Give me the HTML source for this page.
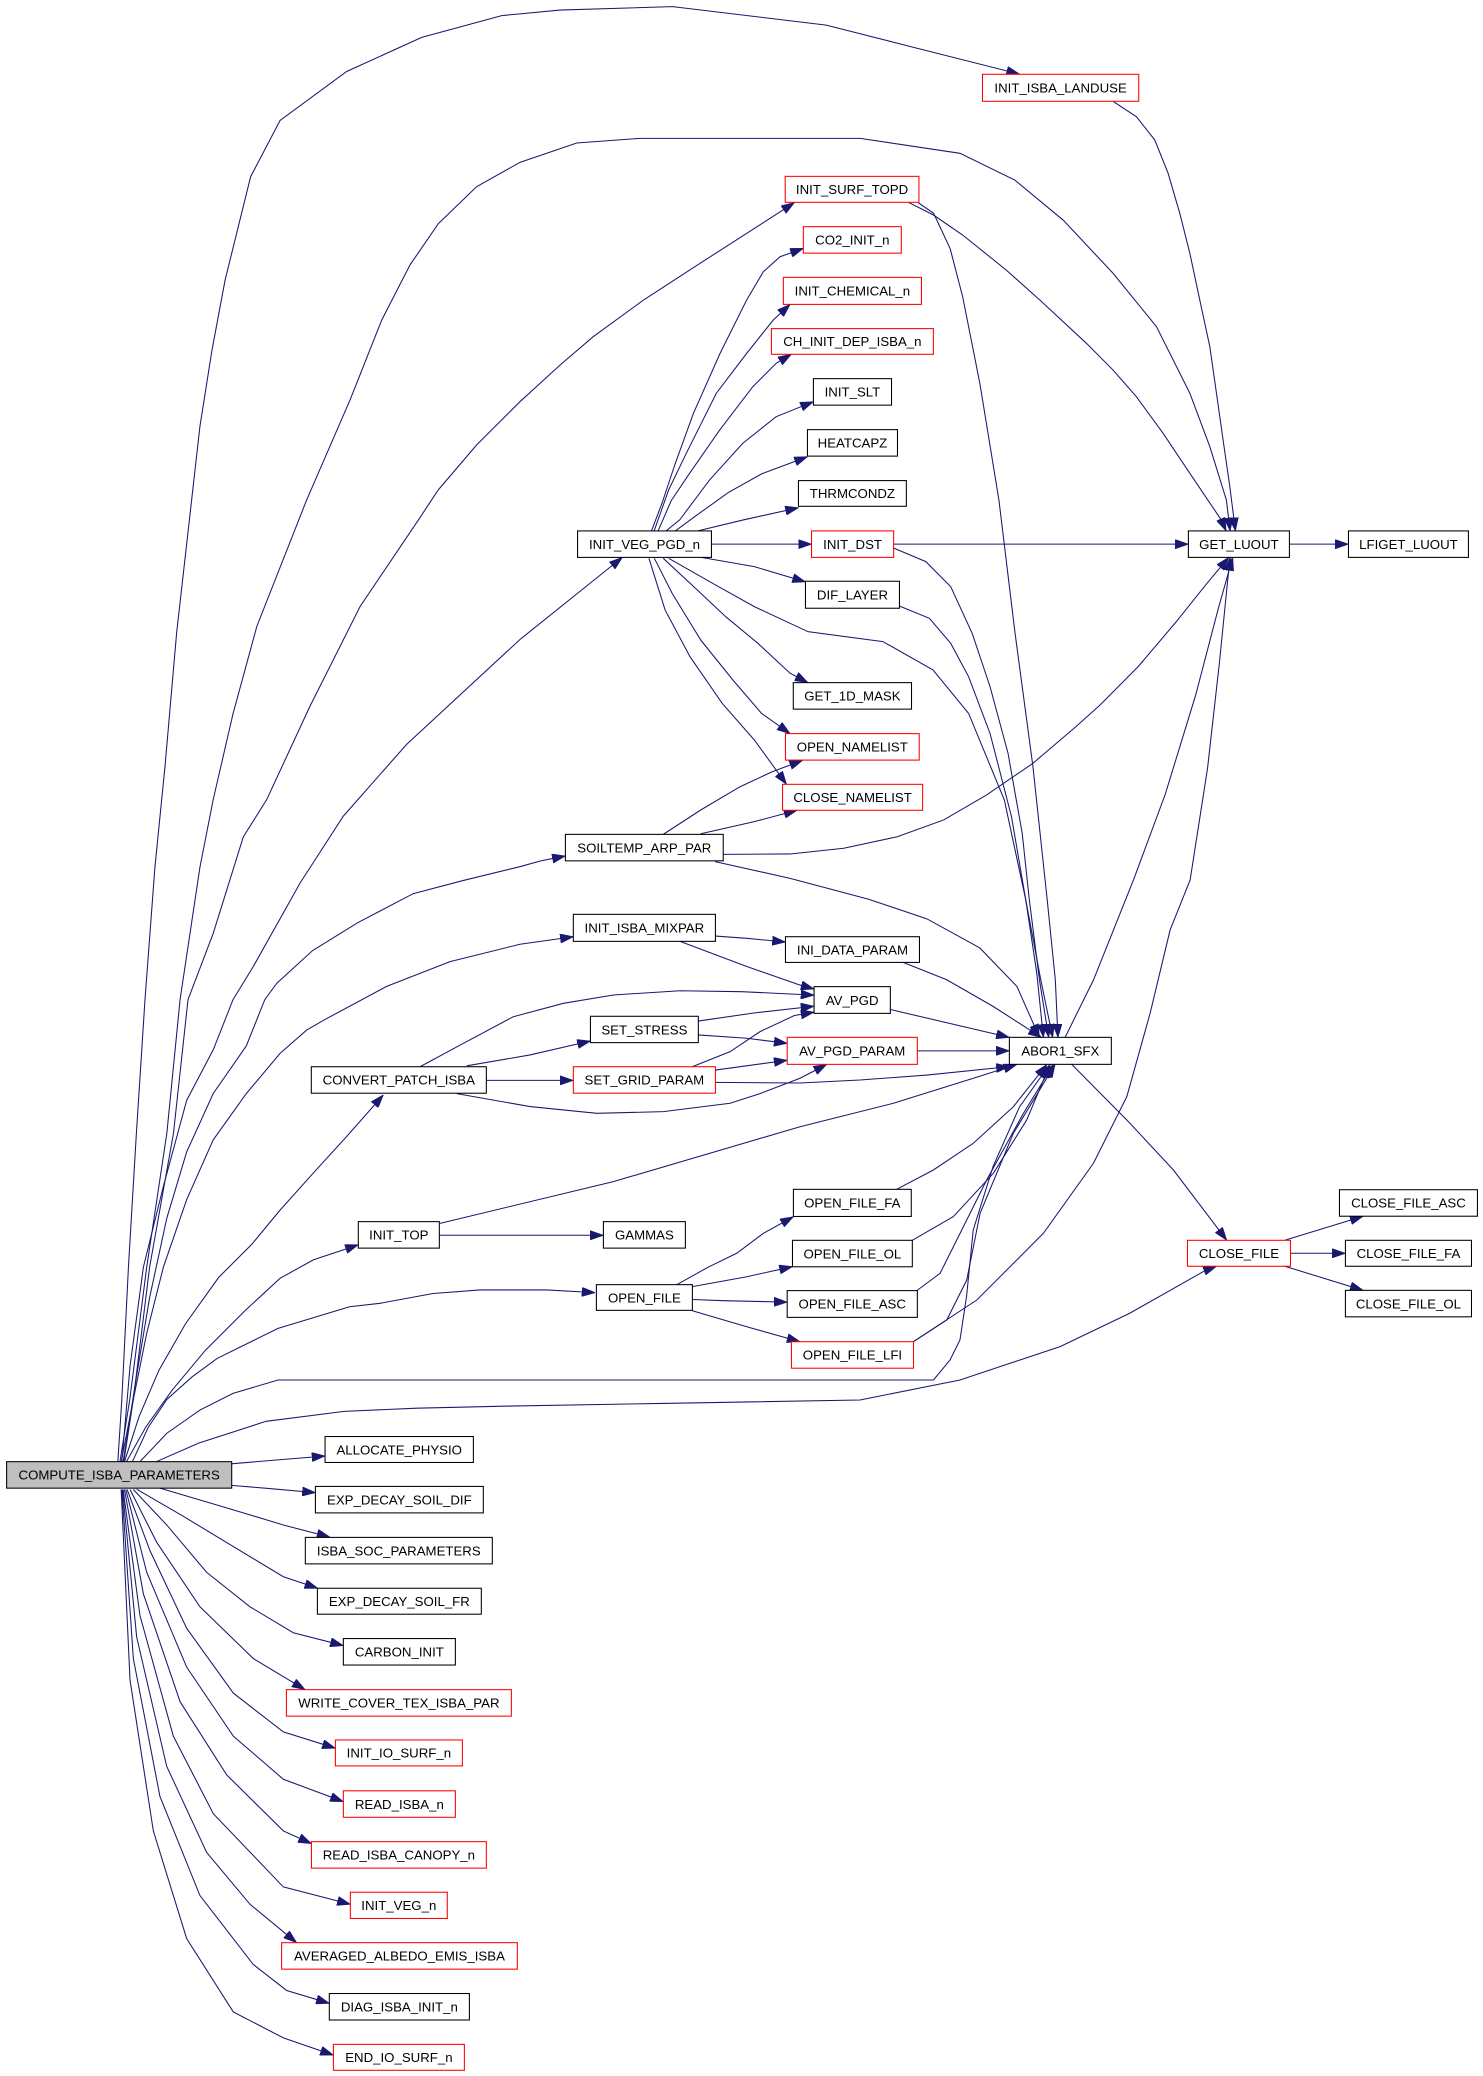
<!DOCTYPE html>
<html><head><meta charset="utf-8"><style>
html,body{margin:0;padding:0;background:#fff;}
svg{display:block;}
.e path{fill:none;stroke:#191970;stroke-width:0.8;marker-end:url(#ah);}
.n rect{fill:#fff;stroke:#000;stroke-width:0.8;}
.n rect.r{stroke:#ff0000;}
.n text{font-family:"Liberation Sans",Arial,sans-serif;font-size:10px;text-anchor:middle;fill:#000;}
</style></head><body>
<svg width="1483" height="2076" viewBox="0 0 1120 1568" preserveAspectRatio="none" xmlns="http://www.w3.org/2000/svg">
<defs><marker id="ah" viewBox="0 0 10 7" refX="10" refY="3.5" markerWidth="10" markerHeight="7" markerUnits="userSpaceOnUse" orient="auto"><path d="M0,0L10,3.5L0,7z" fill="#191970" stroke="#191970" stroke-width="0.5"/></marker></defs>
<rect x="0" y="0" width="1120" height="1568" fill="#fff"/>
<g class="e">
<path d="M89,1104 L92,1057 L97,957 L103,856 L109.5,755 L117,655 L124.6,579 L133.4,478 L143,393 L151,322 L160,265 L170,211.5 L189.3,133.4 L211.5,91 L261.8,54 L318.5,28.2 L378.9,11.8 L423,7.6 L508,5 L624,19 L687,35 L770,56"/>
<path d="M90.6,1104 L98,1057 L110.8,957 L126,856 L136,755 L151,655 L161,604 L176,539 L194,473 L231.6,377.6 L264.4,302 L288.3,241.7 L309.7,200 L331,169 L360,141 L392.7,122.6 L435.6,108 L483,104.5 L649.5,104.5 L725,115.8 L766.4,136 L802.9,166.2 L840.6,206.4 L873.4,246.7 L898.6,297 L913.7,337.4 L926.2,377.6 L929,401"/>
<path d="M91.5,1104 L100.7,1057 L113,957 L131,856 L142,755 L161,705 L183.8,632 L201.4,604 L234,533.6 L272,458 L316,392.7 L331,370 L360,336 L392.7,303.4 L423,275.7 L448,254.3 L486,226.6 L528.7,198.9 L564,176.2 L600,153"/>
<path d="M92,1104 L98.2,1032 L108.3,957 L123.4,896 L141,831 L161,793 L176,755 L191.3,730 L226.6,667 L259.3,616.4 L307,562.3 L392.7,483 L470,421"/>
<path d="M93,1104 L103,1040 L113,980 L126,920 L141,870 L161,826 L186,790 L200,755 L209,742.7 L236,718 L270,697 L312,675 L350,665 L392.7,654.6 L408,650.3 L427,646.5"/>
<path d="M93.5,1104 L100.7,1057 L110.8,1007 L123.4,957 L141,906 L161,861 L186,826 L211.5,795.6 L231.6,778 L245.5,770 L292,745 L339.9,726.3 L392.7,713.2 L433,707.5"/>
<path d="M94,1104 L105,1070 L120,1035 L140,1000 L165,965 L190,940 L211.5,914 L236.6,886 L261.8,858.4 L289.5,827"/>
<path d="M95.5,1104 L110,1078 L130,1050 L155,1020 L185,990 L211.5,965.5 L236.6,951.6 L259.3,944 L270.6,940.2"/>
<path d="M100,1104 L112,1078 L126,1057 L145,1040 L164,1026 L210,1003.3 L264,987 L287,984.4 L327,977 L362.5,974.3 L412.9,974.3 L449.4,976.3"/>
<path d="M105.7,1104 L125.9,1082.6 L151,1065 L176,1052.4 L210,1042.3 L705,1042.3 L717.5,1027.2 L725,1012 L730,979 L735,929 L750,881 L770,836 L792,805"/>
<path d="M118,1104 L150,1090 L201,1073.5 L260,1066 L314.7,1063.6 L385,1062 L500,1060 L649.5,1057.4 L725,1042.3 L800.6,1017.1 L853,992 L911,959.2 L918.7,956.5"/>
<path d="M174.7,1105.6 L245.5,1099.7"/>
<path d="M174.7,1121.9 L201.4,1124.1 L238.2,1127.4"/>
<path d="M120.8,1124 L176.2,1140.4 L214,1151.8 L249.2,1161"/>
<path d="M103.2,1124.8 L138.5,1145.3 L176.2,1168.1 L214,1190.9 L240,1199.6"/>
<path d="M100.7,1125 L125.9,1151.8 L156.1,1187.6 L188.8,1213.6 L221.5,1233.2 L259.3,1242.9"/>
<path d="M98.2,1125 L118.3,1164.8 L151,1213.6 L191.3,1252.7 L230.4,1276.2"/>
<path d="M96,1125 L113.3,1171.3 L141,1229.9 L176.2,1278.8 L214,1308.1 L253.3,1320.4"/>
<path d="M95,1125 L110.8,1187.6 L141,1259.2 L176.2,1311.3 L214,1343.9 L259.3,1360.8"/>
<path d="M94,1125 L108.3,1203.9 L136,1285.3 L171.2,1340.6 L214,1382.9 L235.2,1392.5"/>
<path d="M93,1125 L105.7,1220.2 L130.9,1311.3 L161.1,1369.9 L214,1425.2 L264.6,1438.3"/>
<path d="M92.5,1125 L103.2,1236.4 L125.9,1334.1 L156.1,1399.2 L188.8,1438.3 L224,1467.3"/>
<path d="M92,1125 L100.7,1252.7 L120.8,1356.9 L151,1431.7 L191.3,1483.8 L216.5,1503.4 L248.7,1513.1"/>
<path d="M91.5,1125 L98.2,1269 L115.8,1382.9 L141,1464.3 L176.2,1519.6 L214,1539.2 L251.8,1552.2"/>
<path d="M492,401 L500,380 L510,350 L523.7,312.2 L543.8,266.9 L563.9,226.6 L576.5,205.2 L589.1,193.9 L606.7,187.6"/>
<path d="M494,401 L505,370 L518.3,342.4 L541,297 L563.9,266.9 L584,241.7 L596.7,229.9"/>
<path d="M497,401 L507,378 L520.8,357.5 L543.5,324.8 L568.6,292 L586.2,274.4 L597.6,267.6"/>
<path d="M503,401 L513.3,392.7 L535.9,362.5 L561,334.8 L586.2,314.7 L614.3,303.4"/>
<path d="M510,401 L525,390 L550,372 L575,358 L609.8,345"/>
<path d="M527,401 L561.3,392.7 L603,383.5"/>
<path d="M537.3,411 L612.9,411"/>
<path d="M530.6,421.2 L569.7,428 L608.3,439.5"/>
<path d="M500.9,421.7 L523.9,443.1 L548.1,465.8 L572.4,485.9 L596.7,508.5 L610.2,515.6"/>
<path d="M494.2,421.7 L507.6,448.1 L529.2,483.4 L553.5,513.6 L575.1,538.8 L596.7,554.1"/>
<path d="M490.1,421.7 L502.3,460.7 L521.1,496 L545.4,531.2 L569.7,558.9 L594,592.4"/>
<path d="M505,421.7 L542.7,443.1 L569.7,458.2 L610.2,477.1 L666.8,484.6 L704.6,506 L731.5,538.8 L758.5,604.2 L774.7,679.8 L783,735 L788,783.5"/>
<path d="M675,411 L897.5,411"/>
<path d="M675,414 L699.2,424.2 L718,443.1 L734.2,478.3 L747.7,518.6 L761.3,569 L772,629.4 L777.4,679.8 L785,740 L792,783.5"/>
<path d="M679.2,457.7 L701.9,467 L718,485.9 L731.5,511.1 L747.7,553.9 L763.9,616.8 L774.7,679.8 L786,740 L795,783.5"/>
<path d="M693.6,153.2 L705,161 L717.5,187.5 L727,224 L740,289.5 L754.4,377.6 L766.6,478.3 L780.1,579 L790.9,679.8 L797,740 L799,783.5"/>
<path d="M686,152.8 L705,162.4 L727,177.5 L760,204 L785.3,226.6 L820.5,259.3 L840.6,279.5 L858.2,299.6 L878.4,327.3 L898.6,357.5 L922.4,392.8 L926,401"/>
<path d="M840.6,76.5 L858.2,88.1 L872.1,105.7 L882.2,130.9 L891,161.1 L898.6,191.3 L906.1,226.6 L913.7,261.9 L918.7,297 L923.7,332.3 L928.8,367.6 L933,401"/>
<path d="M973.8,411 L1018.4,411"/>
<path d="M500.9,630.2 L529.2,611.8 L558.9,594.2 L583.2,582.9 L606.1,574.3"/>
<path d="M529.2,629.7 L569.7,620.6 L602,612"/>
<path d="M546.2,645.3 L596.7,645 L637.2,640.7 L677.6,632 L712.7,619.3 L745,600.5 L780.1,576.5 L812.5,548.9 L830.8,532.5 L860,503 L888,470 L912,440 L928,421"/>
<path d="M540,650.8 L596.7,663.4 L656,679.2 L700,694 L740,716 L768,745 L785,783.5"/>
<path d="M540.3,707 L564,708.7 L593.2,711.5"/>
<path d="M513.6,711 L564,730 L604,744 L614.8,747"/>
<path d="M682.3,727 L715,740 L750.3,760.3 L786.4,783.5"/>
<path d="M672.4,762.5 L762.3,783.5"/>
<path d="M527.4,771.2 L570,765 L614.8,760"/>
<path d="M527.4,781.7 L564,784.2 L594.5,788"/>
<path d="M522.8,805.7 L551.4,794.3 L574,779.2 L600,767 L614.8,764.5"/>
<path d="M540.3,808.2 L594.5,800.8"/>
<path d="M540.3,817.5 L604,818 L649.5,815.7 L700,812 L762.3,805.6"/>
<path d="M317.2,805.7 L350,788 L387.7,767.9 L425.5,757.8 L463.2,751.5 L513.6,748.3 L560,749 L614.8,751.6"/>
<path d="M352.5,805 L400.3,796.8 L445.9,786.3"/>
<path d="M367.3,816 L433,816"/>
<path d="M344.9,826 L400.3,835.8 L450.7,840.9 L501,839.6 L551.4,833.3 L574,826 L604.2,814.4 L624.4,803.9"/>
<path d="M692.8,793.7 L762.3,793.7"/>
<path d="M331.8,933 L455.7,933"/>
<path d="M332.3,924 L463.2,892.5 L604.2,851 L674.7,833.3 L735.1,814.4 L767.9,804"/>
<path d="M511.1,970.3 L535,957 L556.4,946.6 L576.5,931.5 L599.2,919"/>
<path d="M522.9,971.8 L564,964.3 L598.5,956.7"/>
<path d="M522.9,981.5 L546.3,982.4 L594.5,983.5"/>
<path d="M522.9,990 L564,1002.1 L604.2,1013.4"/>
<path d="M677.2,898.3 L704.9,883.7 L735.1,863.5 L765.3,835.9 L790.6,804"/>
<path d="M689,936.8 L720,918.9 L750.2,886.2 L775.4,845.9 L793,804"/>
<path d="M692.4,974.8 L710,961.7 L725.1,931.5 L745.2,891.2 L772.9,840.9 L795.5,804"/>
<path d="M689.8,1013.4 L715,997 L730.1,966.8 L740.2,916.4 L765.3,856 L796.8,804"/>
<path d="M689.8,1013.4 L737.7,981.9 L788,931.5 L825.8,878.6 L851,828.3 L868.6,765.3 L883.7,702.4 L898.8,664.7 L912,580 L921,500 L927,440 L929,421"/>
<path d="M804.4,783.5 L825.8,740.2 L856,664.7 L880,600 L903,525 L920,460 L931,421"/>
<path d="M809.4,803.9 L851,845.9 L886.2,883.7 L926.5,936.8"/>
<path d="M970.3,936.8 L1029.5,918.6"/>
<path d="M974.6,946.6 L1016.1,946.6"/>
<path d="M970.3,956.4 L1029.5,974.6"/>
</g>
<g class="n">
<rect x="5" y="1104" width="170" height="20" style="fill:#bfbfbf"/><text x="90" y="1117.6">COMPUTE_ISBA_PARAMETERS</text>
<rect x="245.5" y="1085" width="112" height="19.6"/><text x="301.5" y="1098.4">ALLOCATE_PHYSIO</text>
<rect x="238.2" y="1122.7" width="126.8" height="20"/><text x="301.6" y="1136.3">EXP_DECAY_SOIL_DIF</text>
<rect x="230.6" y="1161.2" width="141.2" height="20"/><text x="301.2" y="1174.8">ISBA_SOC_PARAMETERS</text>
<rect x="239.7" y="1199.6" width="123.8" height="19.6"/><text x="301.6" y="1213">EXP_DECAY_SOIL_FR</text>
<rect x="259.3" y="1237.6" width="84.6" height="20"/><text x="301.6" y="1251.2">CARBON_INIT</text>
<rect class="r" x="216.3" y="1276.2" width="169.9" height="20"/><text x="301.25" y="1289.8">WRITE_COVER_TEX_ISBA_PAR</text>
<rect class="r" x="253.3" y="1314.2" width="95.9" height="19.6"/><text x="301.25" y="1327.6">INIT_IO_SURF_n</text>
<rect class="r" x="259.3" y="1352.6" width="84.6" height="20"/><text x="301.6" y="1366.2">READ_ISBA_n</text>
<rect class="r" x="235.2" y="1391" width="132.1" height="20"/><text x="301.25" y="1404.6">READ_ISBA_CANOPY_n</text>
<rect class="r" x="264.6" y="1429.2" width="73.2" height="19.8"/><text x="301.2" y="1442.7">INIT_VEG_n</text>
<rect class="r" x="212.7" y="1467.3" width="178" height="20"/><text x="301.7" y="1480.9">AVERAGED_ALBEDO_EMIS_ISBA</text>
<rect x="248.7" y="1505.7" width="105.8" height="20"/><text x="301.6" y="1519.3">DIAG_ISBA_INIT_n</text>
<rect class="r" x="251.8" y="1544.1" width="98.9" height="19.6"/><text x="301.25" y="1557.5">END_IO_SURF_n</text>
<rect x="235.1" y="805.7" width="132.2" height="20"/><text x="301.2" y="819.3">CONVERT_PATCH_ISBA</text>
<rect x="270.6" y="922.7" width="61.2" height="20"/><text x="301.2" y="936.3">INIT_TOP</text>
<rect x="436.2" y="401" width="101.1" height="20"/><text x="486.75" y="414.6">INIT_VEG_PGD_n</text>
<rect x="427" y="630.2" width="119.2" height="20"/><text x="486.6" y="643.8">SOILTEMP_ARP_PAR</text>
<rect x="433" y="690.6" width="107.3" height="20.4"/><text x="486.65" y="704.4">INIT_ISBA_MIXPAR</text>
<rect x="445.9" y="767.6" width="81.5" height="19.9"/><text x="486.65" y="781.2">SET_STRESS</text>
<rect class="r" x="433" y="805.7" width="107.3" height="20"/><text x="486.65" y="819.3">SET_GRID_PARAM</text>
<rect x="455.7" y="922.7" width="61.9" height="20"/><text x="486.65" y="936.3">GAMMAS</text>
<rect x="450.4" y="970.3" width="72.5" height="19.4"/><text x="486.65" y="983.6">OPEN_FILE</text>
<rect class="r" x="593" y="133.2" width="101" height="19.6"/><text x="643.5" y="146.6">INIT_SURF_TOPD</text>
<rect class="r" x="606.7" y="171.2" width="74" height="20"/><text x="643.7" y="184.8">CO2_INIT_n</text>
<rect class="r" x="591.6" y="209.5" width="104.3" height="20.4"/><text x="643.75" y="223.3">INIT_CHEMICAL_n</text>
<rect class="r" x="582.6" y="248.2" width="122.3" height="19.4"/><text x="643.75" y="261.5">CH_INIT_DEP_ISBA_n</text>
<rect x="614.3" y="286" width="59" height="20"/><text x="643.8" y="299.6">INIT_SLT</text>
<rect x="609.8" y="324.5" width="68" height="20"/><text x="643.8" y="338.1">HEATCAPZ</text>
<rect x="603" y="363" width="81.5" height="19.4"/><text x="643.75" y="376.3">THRMCONDZ</text>
<rect class="r" x="612.9" y="401" width="62" height="20"/><text x="643.9" y="414.6">INIT_DST</text>
<rect x="608.3" y="439" width="71" height="20.4"/><text x="643.8" y="452.8">DIF_LAYER</text>
<rect x="599.1" y="515.6" width="89.3" height="20"/><text x="643.75" y="529.2">GET_1D_MASK</text>
<rect class="r" x="593.2" y="554.1" width="101" height="20"/><text x="643.7" y="567.7">OPEN_NAMELIST</text>
<rect class="r" x="591" y="592.4" width="105.8" height="19.6"/><text x="643.9" y="605.8">CLOSE_NAMELIST</text>
<rect x="593.2" y="707.5" width="101.2" height="19.4"/><text x="643.8" y="720.8">INI_DATA_PARAM</text>
<rect x="614.8" y="745.2" width="57.6" height="20.2"/><text x="643.6" y="758.9">AV_PGD</text>
<rect class="r" x="594.5" y="783.5" width="98.3" height="20.4"/><text x="643.65" y="797.3">AV_PGD_PARAM</text>
<rect x="599.2" y="898.3" width="89" height="20.5"/><text x="643.7" y="912.2">OPEN_FILE_FA</text>
<rect x="598.5" y="936.8" width="90.5" height="20"/><text x="643.75" y="950.4">OPEN_FILE_OL</text>
<rect x="594.5" y="974.8" width="98.3" height="20.2"/><text x="643.65" y="988.5">OPEN_FILE_ASC</text>
<rect class="r" x="597.7" y="1013.4" width="92.2" height="20"/><text x="643.8" y="1027">OPEN_FILE_LFI</text>
<rect class="r" x="742" y="56.1" width="118" height="20.4"/><text x="801" y="69.9">INIT_ISBA_LANDUSE</text>
<rect x="762.3" y="783.5" width="77" height="20.4"/><text x="800.8" y="797.3">ABOR1_SFX</text>
<rect x="897.5" y="401" width="76.3" height="20"/><text x="935.65" y="414.6">GET_LUOUT</text>
<rect class="r" x="896.8" y="936.8" width="77.8" height="19.6"/><text x="935.7" y="950.2">CLOSE_FILE</text>
<rect x="1018.4" y="401" width="90.6" height="20"/><text x="1063.7" y="414.6">LFIGET_LUOUT</text>
<rect x="1011.6" y="898.6" width="104.2" height="20"/><text x="1063.7" y="912.2">CLOSE_FILE_ASC</text>
<rect x="1016.1" y="936.8" width="95.2" height="19.6"/><text x="1063.7" y="950.2">CLOSE_FILE_FA</text>
<rect x="1016.1" y="974.6" width="95.2" height="20"/><text x="1063.7" y="988.2">CLOSE_FILE_OL</text>
</g>
</svg>
</body></html>
